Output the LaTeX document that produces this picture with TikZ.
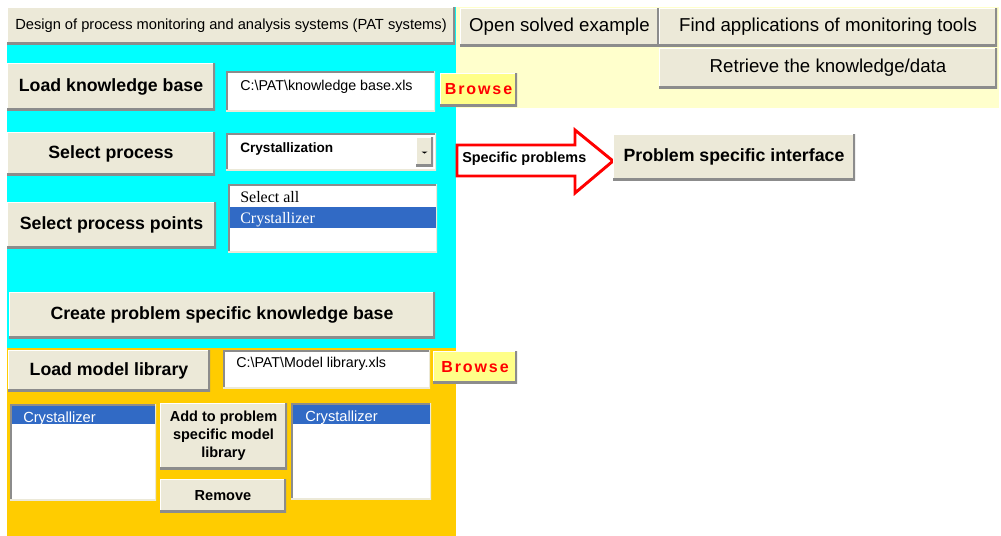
\documentclass[tikz,border=0pt]{standalone}
\usepackage{fontspec}
\usetikzlibrary{calc}
\setmainfont{Liberation Sans}
\newfontfamily\uiserif{Liberation Serif}
\newfontfamily\spacedfont[LetterSpace=12]{Liberation Sans}
\definecolor{beige}{HTML}{ECE9D8}
\definecolor{btnshade}{HTML}{8C8C8C}
\definecolor{cyanbg}{HTML}{00FFFF}
\definecolor{orangebg}{HTML}{FFCC00}
\definecolor{paleyel}{HTML}{FFFFCC}
\definecolor{browseyel}{HTML}{FFFF88}
\definecolor{selblue}{HTML}{316AC5}
\definecolor{arrowred}{HTML}{FF0000}
\newcommand\uibox[7]{\node[#1, minimum width={(#5-#3)*0.75pt}, minimum height={(#6-#4)*0.75pt}] (#2) at ({(#3+#5)/2},{(#4+#6)/2}) {#7};}
\tikzset{
  x=0.75pt, y=-0.75pt,
  btn/.style={fill=beige, inner sep=0pt, align=center, text=black,
    path picture={
      \draw[white,line width=2pt] (path picture bounding box.south west) -- (path picture bounding box.north west) -- (path picture bounding box.north east);
      \draw[btnshade,line width=3pt] (path picture bounding box.south west) -- (path picture bounding box.south east) -- (path picture bounding box.north east);}},
  field/.style={fill=white, inner sep=0pt,
    path picture={
      \draw[btnshade,line width=3pt] (path picture bounding box.south west) -- (path picture bounding box.north west) -- (path picture bounding box.north east);
      \draw[beige,line width=2pt] (path picture bounding box.south west) -- (path picture bounding box.south east) -- (path picture bounding box.north east);}},
  browsebtn/.style={btn, fill=browseyel, text=arrowred, font=\spacedfont\bfseries\fontsize{12}{14}\selectfont},
  bigbold/.style={font=\bfseries\fontsize{13.3}{16}\selectfont},
  topreg/.style={font=\fontsize{14}{17}\selectfont},
  smallbold/.style={font=\bfseries\fontsize{10.9}{13.5}\selectfont},
  sel/.style={fill=selblue, inner sep=0pt},
  fieldtext/.style={anchor=base west, inner sep=0pt, font=\fontsize{10.7}{13}\selectfont},
  listserif/.style={anchor=base west, inner sep=0pt, font=\uiserif\fontsize{12}{14}\selectfont},
  listsans/.style={anchor=base west, inner sep=0pt, text=white, font=\fontsize{11}{13}\selectfont},
}
\begin{document}
\begin{tikzpicture}
\useasboundingbox (0,0) rectangle (1001,536);
\fill[white] (0,0) rectangle (1001,536);
% background panels
\fill[cyanbg] (7,7) rectangle (456,348);
\fill[orangebg] (7,348) rectangle (456,536);
\fill[paleyel] (456,7) rectangle (999,108);
% top row
\uibox{btn, font=\fontsize{11}{13}\selectfont}{title}{7}{7}{455}{44}{Design of process monitoring and analysis systems (PAT systems)}
\uibox{btn, topreg}{open}{460}{8}{659}{46}{Open solved example}
\uibox{btn, topreg}{find}{659}{8}{997}{46}{Find applications of monitoring tools}
\uibox{btn, topreg}{retrieve}{659}{48}{997}{88}{Retrieve the knowledge/data}
% knowledge base
\uibox{btn, bigbold}{loadkb}{7}{63}{215}{110}{Load knowledge base}
\uibox{field}{kbfield}{226}{71}{435}{111}{}
\node[fieldtext] (kbtext) at (240,90) {C:\textbackslash PAT\textbackslash knowledge base.xls};
\uibox{browsebtn}{browse1}{440}{73}{517}{106}{Browse}
% process
\uibox{btn, bigbold}{selproc}{7}{132}{215}{175}{Select process}
\uibox{field}{combo}{226}{133}{436}{170}{}
\node[anchor=base west, inner sep=0pt, font=\bfseries\fontsize{10.2}{12}\selectfont] (combotext) at (240,152) {Crystallization};
\uibox{btn}{dropbtn}{416}{137}{433}{166}{}
\fill[black] ($(dropbtn.center)+(-3,0)$) -- ($(dropbtn.center)+(3,0)$) -- ($(dropbtn.center)+(0,2)$) -- cycle;
\uibox{btn, bigbold}{selpts}{7}{202}{216}{248}{Select process points}
\uibox{field}{ptlist}{228}{184}{437}{252}{}
\uibox{sel}{ptsel}{230}{207}{436}{228}{}
\node[listserif] (selall) at (240,202) {Select all};
\node[listserif, text=white] (ptcryst) at (240,223) {Crystallizer};
\uibox{btn, bigbold}{create}{9}{292}{435}{338}{Create problem specific knowledge base}
% model library
\uibox{btn, bigbold}{loadml}{8}{350}{210}{391}{Load model library}
\uibox{field}{mlfield}{223}{350}{430}{388}{}
\node[fieldtext] (mltext) at (236,367) {C:\textbackslash PAT\textbackslash Model library.xls};
\uibox{browsebtn}{browse2}{433}{351}{517}{383}{Browse}
\uibox{field}{leftlist}{10}{404}{156}{500}{}
\uibox{sel}{leftsel}{12}{406}{155}{424}{}
\node[listsans] (lefttext) at (23,422) {Crystallizer};
\uibox{btn, smallbold}{add}{160}{403}{287}{469}{Add to problem\\specific model\\library}
\uibox{btn, smallbold}{remove}{160}{479}{286}{512}{Remove}
\uibox{field}{rightlist}{291}{403}{431}{499}{}
\uibox{sel}{rightsel}{293}{405}{430}{424}{}
\node[listsans] (righttext) at (305,421) {Crystallizer};
% arrow to problem specific interface
\draw[arrowred, line width=2.2pt, fill=white, line join=miter]
  (457,145) -- (575,145) -- (575,130) -- (613,161) -- (575,193) -- (575,176) -- (457,176) -- cycle;
\node[anchor=west, inner sep=0pt, font=\bfseries\fontsize{10.8}{13}\selectfont] (spec) at (462,159) {Specific problems};
\uibox{btn, bigbold}{psi}{613}{134}{855}{180}{Problem specific interface}
\end{tikzpicture}
\end{document}
